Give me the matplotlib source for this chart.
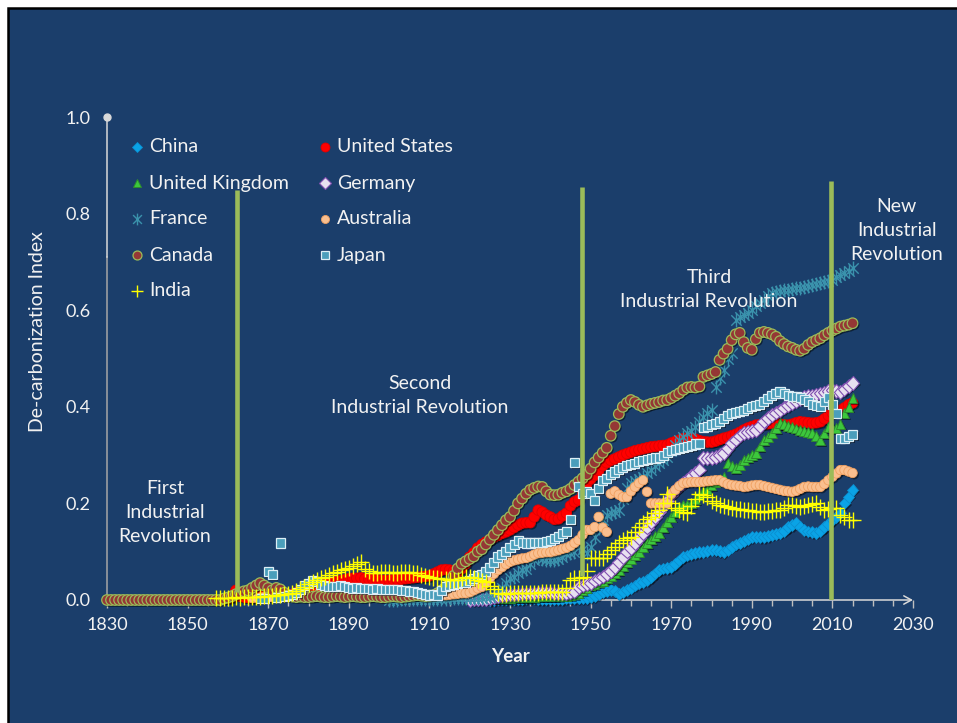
import numpy as np
import matplotlib
matplotlib.use("Agg")
import matplotlib.pyplot as plt
from matplotlib.patches import Rectangle
from matplotlib.path import Path
import matplotlib.patheffects as pe

plt.rcParams['font.family'] = ['Lato', 'DejaVu Sans']

# ---------------- data (De-carbonization Index, yearly) ----------------
canada_start = 1830
canada = [
    0, 0, 0, 0, 0, 0, 0, 0, 0, 0,
    0, 0, 0, 0, 0, 0, 0, 0, 0, 0,
    0, 0, 0, 0, 0, 0, 0, 0, 0, 0.003,
    0.005, 0.008, 0.012, 0.015, 0.018, 0.02, 0.025, 0.03, 0.035, 0.03,
    0.025, 0.02, 0.025, 0.022, 0.015, 0.01, 0.007, 0.006, 0.007, 0.006,
    0.006, 0.007, 0.008, 0.007, 0.006, 0.006, 0.007, 0.008, 0.007, 0.006,
    0.007, 0.008, 0.007, 0.006, 0.006, 0.007, 0.008, 0.007, 0.006, 0.006,
    0.007, 0.008, 0.007, 0.006, 0.007, 0.008, 0.009, 0.01, 0.009, 0.008,
    0.009, 0.01, 0.014, 0.02, 0.026, 0.035, 0.05, 0.065, 0.075, 0.08,
    0.085, 0.09, 0.1, 0.105, 0.115, 0.125, 0.135, 0.145, 0.155, 0.165,
    0.172, 0.185, 0.2, 0.21, 0.22, 0.228, 0.232, 0.235, 0.234, 0.225,
    0.218, 0.217, 0.218, 0.222, 0.225, 0.23, 0.238, 0.245, 0.252, 0.26,
    0.272, 0.285, 0.295, 0.305, 0.315, 0.34, 0.36, 0.385, 0.4, 0.408,
    0.414, 0.41, 0.404, 0.4, 0.403, 0.406, 0.408, 0.41, 0.413, 0.414,
    0.418, 0.423, 0.428, 0.435, 0.44, 0.441, 0.44, 0.442, 0.462, 0.465,
    0.468, 0.472, 0.497, 0.51, 0.52, 0.538, 0.55, 0.553, 0.534, 0.522,
    0.518, 0.54, 0.553, 0.555, 0.553, 0.55, 0.545, 0.536, 0.53, 0.525,
    0.522, 0.518, 0.516, 0.52, 0.528, 0.534, 0.538, 0.542, 0.548, 0.553,
    0.558, 0.562, 0.566, 0.568, 0.57, 0.573,
]

us_start = 1860
united_states = [
    0.003, 0.006, 0.02, 0.008, 0.006, 0.005, 0.005, 0.006, 0.007, 0.008,
    0.008, 0.009, 0.009, 0.01, 0.01, 0.01, 0.012, 0.015, 0.018, 0.02,
    0.022, 0.025, 0.028, 0.03, 0.032, 0.035, 0.036, 0.038, 0.04, 0.042,
    0.044, 0.045, 0.045, 0.046, 0.044, 0.043, 0.042, 0.042, 0.041, 0.041,
    0.041, 0.042, 0.042, 0.043, 0.044, 0.045, 0.046, 0.047, 0.048, 0.049,
    0.05, 0.054, 0.058, 0.062, 0.063, 0.062, 0.06, 0.058, 0.065, 0.075,
    0.089, 0.098, 0.108, 0.115, 0.12, 0.125, 0.13, 0.134, 0.138, 0.141,
    0.145, 0.15, 0.155, 0.159, 0.16, 0.16, 0.172, 0.186, 0.182, 0.176,
    0.172, 0.167, 0.168, 0.174, 0.18, 0.195, 0.203, 0.207, 0.225, 0.24,
    0.25, 0.258, 0.268, 0.278, 0.284, 0.289, 0.292, 0.296, 0.3, 0.303,
    0.306, 0.309, 0.311, 0.313, 0.315, 0.317, 0.318, 0.319, 0.32, 0.321,
    0.325, 0.328, 0.331, 0.334, 0.335, 0.335, 0.333, 0.33, 0.328, 0.327,
    0.327, 0.329, 0.332, 0.335, 0.337, 0.34, 0.343, 0.347, 0.352, 0.356,
    0.359, 0.362, 0.363, 0.364, 0.365, 0.366, 0.365, 0.364, 0.363, 0.362,
    0.364, 0.367, 0.369, 0.368, 0.367, 0.366, 0.367, 0.369, 0.375, 0.382,
    0.387, 0.39, 0.393, 0.398, 0.404, 0.408,
]

japan_start = 1868
japan = [
    0.003, 0.004,
    0.058, 0.052, 0.006, 0.118, 0.008, 0.01, 0.012, 0.015, 0.022, 0.03,
    0.035, 0.04, 0.038, 0.033, 0.03, 0.028, 0.027, 0.028, 0.03, 0.027,
    0.025, 0.024, 0.025, 0.024, 0.023, 0.024, 0.022, 0.023, 0.022, 0.021,
    0.022, 0.021, 0.021, 0.02, 0.019, 0.018, 0.017, 0.016, 0.014, 0.012,
    0.01, 0.012, 0.01, 0.02, 0.027, 0.03, 0.033, 0.035, 0.036, 0.037,
    0.04, 0.045, 0.05, 0.052, 0.06, 0.068, 0.078, 0.089, 0.095, 0.1,
    0.108, 0.115, 0.124, 0.12, 0.118, 0.118, 0.12, 0.12, 0.12, 0.122,
    0.124, 0.128, 0.132, 0.137, 0.141, 0.166, 0.284, 0.234, 0.22, 0.224,
    0.22, 0.207, 0.23, 0.248, 0.252, 0.259, 0.265, 0.27, 0.275, 0.278,
    0.28, 0.283, 0.286, 0.288, 0.29, 0.292, 0.294, 0.296, 0.3, 0.305,
    0.31, 0.312, 0.314, 0.316, 0.317, 0.32, 0.323, 0.325, 0.358, 0.36,
    0.363, 0.366, 0.369, 0.375, 0.381, 0.387, 0.389, 0.391, 0.393, 0.396,
    0.4, 0.402, 0.404, 0.41, 0.418, 0.423, 0.428, 0.431, 0.428, 0.424,
    0.422, 0.421, 0.42, 0.415, 0.41, 0.405, 0.402, 0.4, 0.41, 0.42,
    0.405, 0.387, 0.335, 0.335, 0.338, 0.342,
]

france_start = 1900
france = [
    0.001, 0.001, 0.001, 0.002, 0.002, 0.002, 0.002, 0.003, 0.003, 0.003,
    0.003, 0.003, 0.003, 0.003, 0.003, 0.004, 0.004, 0.004, 0.004, 0.004,
    0.004, 0.005, 0.005, 0.005, 0.006, 0.006, 0.008, 0.014, 0.025, 0.035,
    0.045, 0.048, 0.055, 0.062, 0.065, 0.075, 0.082, 0.089, 0.085, 0.083,
    0.082, 0.083, 0.085, 0.09, 0.095, 0.097, 0.1, 0.11, 0.105, 0.097,
    0.11, 0.13, 0.15, 0.165, 0.175, 0.18, 0.183, 0.186, 0.21, 0.232,
    0.242, 0.246, 0.25, 0.255, 0.262, 0.27, 0.277, 0.284, 0.29, 0.296,
    0.308, 0.32, 0.331, 0.338, 0.345, 0.35, 0.358, 0.368, 0.378, 0.387,
    0.393, 0.441, 0.46, 0.476, 0.5, 0.511, 0.58, 0.585, 0.59, 0.594,
    0.6, 0.608, 0.615, 0.622, 0.63, 0.636, 0.638, 0.64, 0.641, 0.642,
    0.643, 0.645, 0.646, 0.648, 0.65, 0.652, 0.654, 0.656, 0.658, 0.66,
    0.662, 0.668, 0.672, 0.677, 0.682, 0.687,
]

germany_start = 1920
germany = [
    0.0, 0.001, 0.001, 0.002, 0.002, 0.003, 0.005, 0.007, 0.009, 0.01,
    0.011, 0.012, 0.012, 0.013, 0.013, 0.014, 0.014, 0.015, 0.015, 0.015,
    0.015, 0.014, 0.014, 0.013, 0.013, 0.015, 0.017, 0.027, 0.03, 0.033,
    0.035, 0.04, 0.044, 0.048, 0.054, 0.06, 0.068, 0.078, 0.089, 0.1,
    0.108, 0.118, 0.128, 0.139, 0.15, 0.161, 0.172, 0.183, 0.193, 0.205,
    0.218, 0.228, 0.236, 0.242, 0.25, 0.257, 0.263, 0.27, 0.294, 0.294,
    0.294, 0.296, 0.3, 0.304, 0.314, 0.325, 0.332, 0.34, 0.346, 0.348,
    0.35, 0.352, 0.36, 0.37, 0.377, 0.383, 0.388, 0.393, 0.398, 0.403,
    0.408, 0.412, 0.416, 0.42, 0.422, 0.424, 0.426, 0.428, 0.43, 0.433,
    0.435, 0.433, 0.431, 0.436, 0.443, 0.449,
]

uk_start = 1920
united_kingdom = [
    0.001, 0.001, 0.002, 0.002, 0.002, 0.003, 0.003, 0.003, 0.004, 0.004,
    0.004, 0.005, 0.005, 0.005, 0.006, 0.006, 0.006, 0.007, 0.007, 0.007,
    0.008, 0.008, 0.008, 0.009, 0.009, 0.01, 0.012, 0.015, 0.02, 0.025,
    0.03, 0.033, 0.036, 0.04, 0.045, 0.05, 0.055, 0.062, 0.07, 0.078,
    0.085, 0.092, 0.1, 0.11, 0.118, 0.125, 0.132, 0.139, 0.15, 0.162,
    0.172, 0.182, 0.193, 0.196, 0.198, 0.2, 0.208, 0.218, 0.225, 0.23,
    0.238, 0.245, 0.25, 0.255, 0.284, 0.278, 0.273, 0.28, 0.29, 0.295,
    0.3, 0.304, 0.318, 0.331, 0.338, 0.346, 0.356, 0.366, 0.364, 0.36,
    0.358, 0.355, 0.352, 0.35, 0.348, 0.346, 0.34, 0.331, 0.345, 0.358,
    0.357, 0.356, 0.365, 0.387, 0.4, 0.418,
]

china_start = 1925
china = [
    0.0, 0.0, 0.001, 0.001, 0.001,
    0.002, 0.002, 0.002, 0.002, 0.003, 0.003, 0.003, 0.002, 0.002, 0.002,
    0.002, 0.002, 0.002, 0.002, 0.003, 0.003, 0.003, 0.003, 0.004, 0.004,
    0.006, 0.008, 0.012, 0.016, 0.019, 0.021, 0.018, 0.012, 0.016, 0.021,
    0.025, 0.03, 0.035, 0.038, 0.041, 0.047, 0.055, 0.062, 0.065, 0.066,
    0.068, 0.074, 0.082, 0.089, 0.092, 0.095, 0.097, 0.099, 0.1, 0.102,
    0.104, 0.103, 0.101, 0.099, 0.104, 0.11, 0.115, 0.118, 0.122, 0.126,
    0.13, 0.131, 0.13, 0.13, 0.132, 0.135, 0.137, 0.139, 0.143, 0.151,
    0.155, 0.159, 0.152, 0.145, 0.142, 0.14, 0.139, 0.143, 0.151, 0.158,
    0.165, 0.172, 0.18, 0.2, 0.214, 0.228,
]

australia_start = 1866
australia = [
    0.004, 0.005, 0.005, 0.006,
    0.006, 0.006, 0.007, 0.007, 0.007, 0.007, 0.008, 0.008, 0.008, 0.008,
    0.008, 0.008, 0.009, 0.009, 0.009, 0.009, 0.009, 0.009, 0.01, 0.01,
    0.01, 0.01, 0.01, 0.01, 0.009, 0.009, 0.009, 0.009, 0.009, 0.009,
    0.009, 0.009, 0.009, 0.009, 0.009, 0.009, 0.009, 0.009, 0.009, 0.009,
    0.01, 0.01, 0.01, 0.01, 0.01, 0.011, 0.012, 0.013, 0.014, 0.014,
    0.016, 0.02, 0.024, 0.027, 0.035, 0.045, 0.054, 0.062, 0.068, 0.074,
    0.079, 0.082, 0.084, 0.086, 0.087, 0.09, 0.094, 0.097, 0.098, 0.099,
    0.099, 0.101, 0.103, 0.106, 0.108, 0.112, 0.118, 0.124, 0.135, 0.145,
    0.145, 0.151, 0.172, 0.15, 0.141, 0.22, 0.225, 0.218, 0.213, 0.213,
    0.225, 0.234, 0.242, 0.248, 0.224, 0.2, 0.2, 0.2, 0.2, 0.2,
    0.22, 0.228, 0.236, 0.242, 0.243, 0.244, 0.244, 0.244, 0.245, 0.246,
    0.247, 0.248, 0.248, 0.244, 0.24, 0.238, 0.237, 0.236, 0.234, 0.235,
    0.237, 0.238, 0.238, 0.236, 0.234, 0.232, 0.23, 0.228, 0.226, 0.225,
    0.224, 0.226, 0.23, 0.234, 0.235, 0.234, 0.234, 0.234, 0.24, 0.248,
    0.255, 0.262, 0.269, 0.269, 0.266, 0.263,
]

india_start = 1857
india = [
    0.004, 0.004, 0.005,
    0.004, 0.005, 0.006, 0.005, 0.006, 0.006, 0.007, 0.006, 0.007, 0.008,
    0.008, 0.009, 0.01, 0.01, 0.012, 0.012, 0.015, 0.018, 0.022, 0.027,
    0.033, 0.038, 0.042, 0.045, 0.048, 0.052, 0.055, 0.058, 0.062, 0.064,
    0.066, 0.07, 0.075, 0.079, 0.065, 0.06, 0.056, 0.055, 0.057, 0.058,
    0.057, 0.056, 0.056, 0.058, 0.058, 0.057, 0.056, 0.055, 0.052, 0.05,
    0.048, 0.046, 0.045, 0.044, 0.043, 0.042, 0.041, 0.042, 0.045, 0.048,
    0.047, 0.045, 0.042, 0.04, 0.037, 0.03, 0.022, 0.014, 0.013, 0.013,
    0.014, 0.014, 0.014, 0.014, 0.014, 0.014, 0.015, 0.015, 0.016, 0.016,
    0.017, 0.017, 0.017, 0.017, 0.025, 0.041, 0.045, 0.045, 0.048, 0.06,
    0.087, 0.087, 0.087, 0.087, 0.095, 0.104, 0.11, 0.118, 0.124, 0.128,
    0.13, 0.14, 0.151, 0.16, 0.168, 0.172, 0.18, 0.186, 0.2, 0.22,
    0.2, 0.19, 0.186, 0.183, 0.18, 0.195, 0.21, 0.22, 0.218, 0.213,
    0.205, 0.2, 0.197, 0.195, 0.192, 0.19, 0.189, 0.188, 0.187, 0.186,
    0.185, 0.184, 0.182, 0.183, 0.184, 0.185, 0.186, 0.186, 0.19, 0.197,
    0.196, 0.194, 0.193, 0.195, 0.197, 0.199, 0.2, 0.193, 0.186, 0.188,
    0.19, 0.19, 0.176, 0.172, 0.166, 0.165,
]

x_tick_years = [1830, 1850, 1870, 1890, 1910, 1930, 1950, 1970, 1990, 2010, 2030]
y_ticks = [0.0, 0.2, 0.4, 0.6, 0.8, 1.0]

# revolution boundary lines (year, bottom, top) and labels
boundary_years = [1862.3, 1947.9, 2009.6]
boundary_bottoms = [0.017, 0.05, 0.0]
boundary_tops = [0.849, 0.855, 0.867]
era_labels = ["First\nIndustrial\nRevolution", "Second\nIndustrial Revolution",
              "Third\nIndustrial Revolution", "New\nIndustrial\nRevolution"]
era_label_x = [1844.4, 1907.7, 1979.4, 2026.0]
era_label_y = [0.182, 0.424, 0.642, 0.764]

# ---------------- styles ----------------
ast_path = Path([(0, -1), (0, 1), (-0.75, -0.75), (0.75, 0.75), (-0.75, 0.75), (0.75, -0.75)],
                [Path.MOVETO, Path.LINETO, Path.MOVETO, Path.LINETO, Path.MOVETO, Path.LINETO])

series = [
    ("China", china_start, china, dict(marker='D', ms=6, mfc='#0AA3E6', mec='#0A8FD0', mew=0.6), True),
    ("United States", us_start, united_states, dict(marker='o', ms=7.6, mfc='#FF0000', mec='#E00000', mew=0.6), True),
    ("United Kingdom", uk_start, united_kingdom, dict(marker='^', ms=7, mfc='#3CC83C', mec='#2E8B2E', mew=0.7), True),
    ("Germany", germany_start, germany, dict(marker='D', ms=6.8, mfc='#E8E0F0', mec='#7F4FB0', mew=0.8), True),
    ("France", france_start, france, dict(marker=ast_path, ms=10, mfc='none', mec='#3A92AC', mew=1.0), False),
    ("Australia", australia_start, australia, dict(marker='o', ms=6.8, mfc='#FABF8F', mec='#F0A060', mew=0.6), True),
    ("Canada", canada_start, canada, dict(marker='o', ms=7.6, mfc='#953735', mec='#9BBB59', mew=0.9), True),
    ("Japan", japan_start, japan, dict(marker='s', ms=6.5, mfc='#4A9EBB', mec='#DDEEF5', mew=0.9), True),
    ("India", india_start, india, dict(marker='+', ms=11, mfc='none', mec='#FFFF00', mew=1.0), False),
]

BG = '#1B3E6B'
TXT = '#F2F2F2'

fig = plt.figure(figsize=(9.57, 7.23), dpi=100, facecolor='white')
panel = Rectangle((8 / 957, -0.05), 1.2, (723 - 8) / 723 + 0.05, transform=fig.transFigure,
                  facecolor=BG, edgecolor='black', lw=1.8, zorder=-10)
fig.patches.append(panel)

ax = fig.add_axes([107 / 957, 123 / 723, 806 / 957, 483 / 723])
ax.set_facecolor('none')
ax.set_xlim(1830, 2030)
ax.set_ylim(0, 1)
for s in ax.spines.values():
    s.set_visible(False)

ax.set_xticks(x_tick_years)
ax.set_xticks(np.arange(1830, 2031, 5), minor=True)
ax.set_xticklabels([str(y) for y in x_tick_years])
ax.tick_params(axis='x', which='major', length=5.5, width=1, color='#BFBFBF', direction='out',
               pad=7, labelsize=13, labelcolor=TXT)
ax.tick_params(axis='x', which='minor', length=4, width=1, color='#BFBFBF', direction='out')
ax.set_yticks(y_ticks)
ax.set_yticklabels([f"{v:.1f}" for v in y_ticks])
ax.tick_params(axis='y', length=0, pad=12, labelsize=13, labelcolor=TXT)

# axis lines
ax.annotate('', xy=(2030, 0), xytext=(1830, 0), xycoords='data',
            arrowprops=dict(arrowstyle='->,head_length=0.55,head_width=0.3', color='#D9D9D9', lw=1.1,
                            shrinkA=0, shrinkB=0), annotation_clip=False, zorder=1.5)
ax.plot([1830, 1830], [0, 0.71], color='#A6A6A6', lw=1.1, clip_on=False, zorder=1.6)
ax.plot([1830, 1830], [0.71, 1.0], color='#D9D9D9', lw=1.1, clip_on=False, zorder=1.6)
ax.plot([1830], [1.0], marker='o', ms=5, color='#D9D9D9', clip_on=False, zorder=1.6)

shadow = [pe.SimplePatchShadow(offset=(1.2, -1.2), shadow_rgbFace='black', alpha=0.45), pe.Normal()]

for i, (name, start, vals, style, shad) in enumerate(series):
    yrs = np.arange(start, start + len(vals))
    kw = dict(style)
    ax.plot(yrs, vals, linestyle='none', clip_on=False, zorder=2 + i * 0.01,
            path_effects=shadow if shad else None, **kw)

# boundary lines
for xb, yb0, yb1 in zip(boundary_years, boundary_bottoms, boundary_tops):
    ax.plot([xb, xb], [yb0, yb1], color='#9BBB59', lw=3.3, solid_capstyle='butt', zorder=3)

for lab, lx, ly in zip(era_labels, era_label_x, era_label_y):
    ax.text(lx, ly, lab, ha='center', va='center', multialignment='center', color=TXT,
            fontsize=14, linespacing=1.5, zorder=4)

# manual legend
leg_order = ["China", "United Kingdom", "France", "Canada", "India",
             "United States", "Germany", "Australia", "Japan"]
leg_rows_y = [0.938, 0.863, 0.789, 0.714, 0.640]
leg_marker_x = [1837.4, 1884.1]
leg_text_x = [1840.4, 1887.1]
lookup = {s[0]: s for s in series}
for k, name in enumerate(leg_order):
    col = 0 if k < 5 else 1
    row = k if k < 5 else k - 5
    st = dict(lookup[name][3])
    st['ms'] = st['ms'] * 0.85
    ax.plot([leg_marker_x[col]], [leg_rows_y[row]], linestyle='none', clip_on=False, zorder=5, **st)
    ax.text(leg_text_x[col], leg_rows_y[row], name, ha='left', va='center', color=TXT,
            fontsize=14, zorder=5)

fig.text(510 / 957, 1 - 657 / 723, "Year", ha='center', va='center', color=TXT,
         fontsize=13.5, fontweight='bold')
fig.text(38 / 957, 1 - 332 / 723, "De-carbonization Index", ha='center', va='center',
         rotation=90, color=TXT, fontsize=14)

fig.savefig("out.png", dpi=100, facecolor='white')
